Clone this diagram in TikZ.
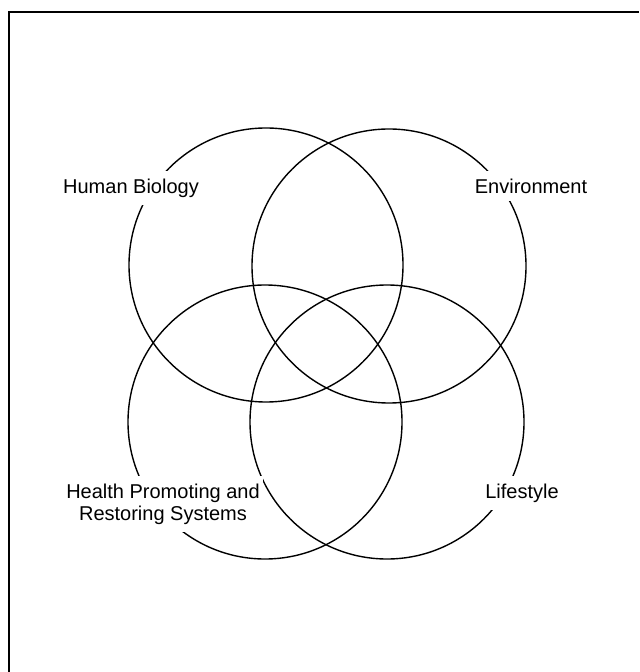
\documentclass[tikz,border=0pt]{standalone}
\usepackage{fontspec}
\setmainfont{Liberation Sans}
\usepackage{tikz}
\usetikzlibrary{positioning}

\begin{document}
\begin{tikzpicture}[x=0.5pt, y=-0.5pt, line width=0.7pt,
  font=\fontsize{10}{11}\selectfont,
  lbl/.style={fill=white, align=center, inner xsep=1.5pt, inner ysep=3.8pt},
  ring/.style={draw=black, line width=0.7pt}]
\useasboundingbox (0,0) rectangle (639,672);
% frame (only left and top edges survive)
\coordinate (fbl) at (8.5,672);
\coordinate (ftl) at (8.5,12);
\coordinate (ftr) at (639,12);
\draw[line width=1pt] (fbl) -- (ftl) -- (ftr);
% circle centres
\coordinate (cbio) at (266,265);
\coordinate (cenv) at (389,266);
\coordinate (chps) at (265,422);
\coordinate (clife) at (387,422);
\draw[ring] (cbio) circle[radius=137];
\draw[ring] (cenv) circle[radius=137];
\draw[ring] (chps) circle[radius=137];
\draw[ring] (clife) circle[radius=137];
% labels
\node[lbl] (bio) at (131,188) {Human Biology};
\node[lbl] (env) at (531,186) {Environment};
\node[lbl] (hps) at (163,504) {Health Promoting and\\Restoring Systems};
\node[lbl] (life) at (522,493) {Lifestyle};
\end{tikzpicture}
\end{document}
